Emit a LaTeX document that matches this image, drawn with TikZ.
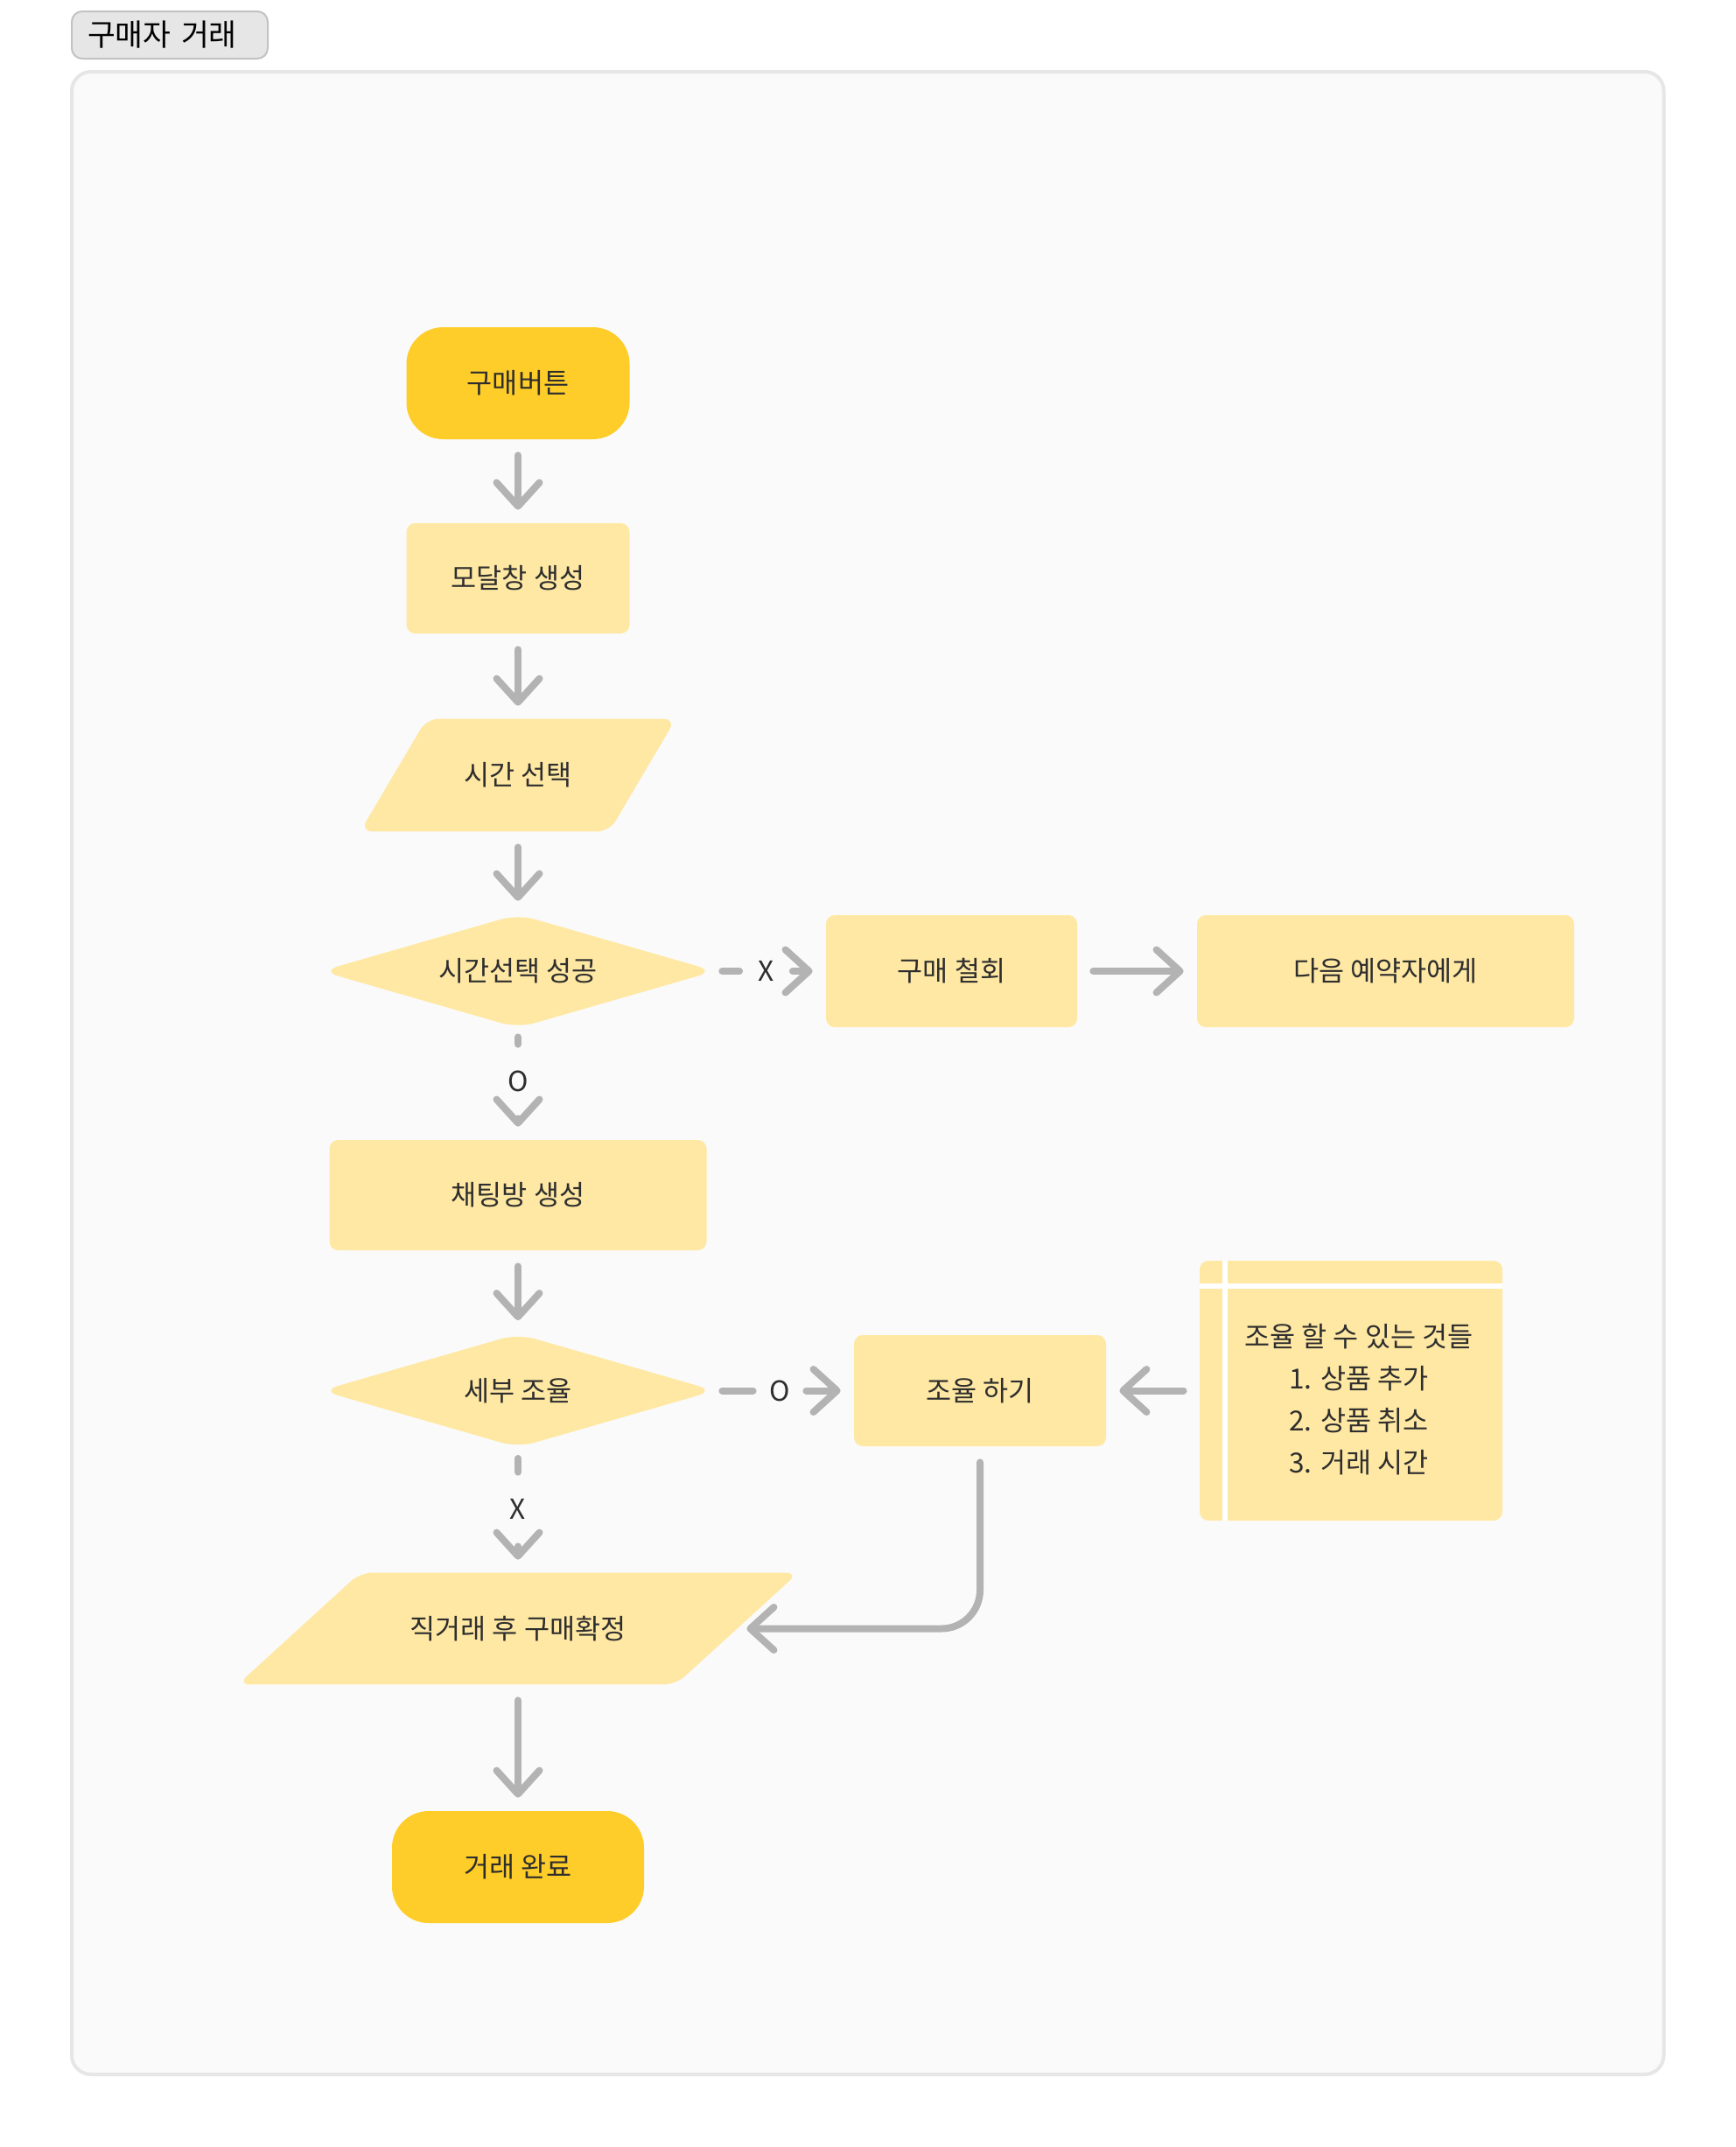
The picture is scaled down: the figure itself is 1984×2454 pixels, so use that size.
\documentclass[tikz,border=0pt]{standalone}
\usepackage{fontspec}
\setmainfont{Noto Sans CJK KR}
\usetikzlibrary{arrows.meta,shapes.geometric,calc}

\definecolor{termfill}{HTML}{FFCD29}
\definecolor{boxfill}{HTML}{FFE8A3}
\definecolor{linkgray}{HTML}{B3B3B3}
\definecolor{inkdark}{HTML}{2E2E2E}
\definecolor{panelfill}{HTML}{FAFAFA}
\definecolor{panelline}{HTML}{E6E6E6}
\definecolor{tagfill}{HTML}{E6E6E6}
\definecolor{tagline}{HTML}{C2C2C2}

\pgfdeclarelayer{panel}
\pgfdeclarelayer{shade}
\pgfsetlayers{panel,shade,main}

\begin{document}
\begin{tikzpicture}[x=0.5pt,y=-0.5pt,
  every node/.style={font=\fontsize{15.8}{24}\selectfont, text=inkdark},
  tagbox/.style={anchor=west, fill=tagfill, draw=tagline, line width=1pt,
    rounded corners=6pt, text width=94pt, inner xsep=9pt, inner ysep=0pt,
    minimum height=27pt, align=left, font=\fontsize{17.3}{20}\selectfont, text=black},
  terminal/.style={rectangle, fill=termfill, rounded corners=21pt, inner sep=0pt},
  process/.style={rectangle, fill=boxfill, rounded corners=5pt, inner sep=0pt},
  ioshape/.style={rectangle, inner sep=0pt},
  decision/.style={diamond, fill=boxfill, rounded corners=10pt, shape aspect=3.4,
    inner sep=2pt, minimum width=225pt, minimum height=65pt},
  notebox/.style={rectangle, fill=boxfill, rounded corners=5pt, inner sep=0pt,
    minimum width=173pt, minimum height=148.5pt},
  lbl/.style={inner sep=0pt, minimum width=30pt, minimum height=42pt},
  conn/.style={draw=linkgray, line width=4pt, line cap=round, line join=round},
  flow/.style={conn, shorten <=9pt, shorten >=7.5pt,
    -{Straight Barb[length=13.5pt,width=24.5pt,round]}},
]
\useasboundingbox (0,0) rectangle (1984,2454);

% panel behind the flow
\begin{pgfonlayer}{panel}
  \fill[white] (0,0) rectangle (1984,2454);
  \draw[panelline, fill=panelfill, line width=2pt, rounded corners=11pt]
    (82,82) rectangle (1901.5,2371);
\end{pgfonlayer}

\node[tagbox] (tag) at (81,40) {구매자 거래};

% main column
\node[terminal, minimum width=127.5pt, minimum height=64pt] (start) at (592,438) {구매버튼};
\node[process, minimum width=127.5pt, minimum height=63pt] (modal) at (592,661) {모달창 생성};
\node[ioshape, minimum width=180pt, minimum height=64pt] (pick) at (592,886) {시간 선택};
\node[decision] (ok) at (592,1110) {시간선택 성공};
\node[lbl] (noLbl) at (875.5,1110) {X};
\node[process, minimum width=143.5pt, minimum height=64pt] (cancel) at (1087.5,1110) {구매 철회};
\node[process, minimum width=215.5pt, minimum height=64pt] (next) at (1583.5,1110) {다음 예약자에게};
\node[lbl] (yesLbl) at (592,1236) {O};
\node[process, minimum width=215.5pt, minimum height=63pt] (chat) at (592,1366) {채팅방 생성};
\node[decision] (tune) at (592,1589.5) {세부 조율};
\node[lbl] (tuneYes) at (891,1589.5) {O};
\node[process, minimum width=144pt, minimum height=63.5pt] (adj) at (1120,1589.5) {조율 하기};
\node[notebox] (note) at (1544,1589.5) {};
\draw[white, line width=3pt] ([xshift=14.5pt]note.north west) -- ([xshift=14.5pt]note.south west);
\draw[white, line width=3pt] ([yshift=-14.5pt]note.north west) -- ([yshift=-14.5pt]note.north east);
\node[align=center] (noteText) at (1553,1600)
  {조율 할 수 있는 것들\\1. 상품 추가\\2. 상품 취소\\3. 거래 시간};
\node[lbl] (tuneNo) at (592,1725) {X};
\node[ioshape, minimum width=320pt, minimum height=63.5pt] (deal) at (592,1861.5) {직거래 후 구매확정};
\node[terminal, minimum width=144pt, minimum height=64pt] (done) at (592,2134) {거래 완료};

% slanted input/output shapes
\begin{pgfonlayer}{shade}
  \fill[boxfill, rounded corners=7pt] (pick.south west) -- ([xshift=-38pt]pick.south east)
    -- (pick.north east) -- ([xshift=38pt]pick.north west) -- cycle;
  \fill[boxfill, rounded corners=7pt] (deal.south west) -- ([xshift=-70pt]deal.south east)
    -- (deal.north east) -- ([xshift=70pt]deal.north west) -- cycle;
\end{pgfonlayer}
\coordinate (dealEdge) at ([xshift=-35pt]deal.east);

% connectors
\draw[flow] (start) -- (modal);
\draw[flow] (modal) -- (pick);
\draw[flow] (pick) -- (ok);
\draw[conn, shorten <=4pt] (ok.east) -- (noLbl.west);
\draw[flow, shorten <=0pt] (noLbl.east) -- (cancel.west);
\draw[flow] (cancel) -- (next);
\draw[conn, shorten <=5pt] (ok.south) -- (yesLbl.north);
\draw[flow, shorten <=0pt] (yesLbl.south) -- (chat.north);
\draw[flow] (chat) -- (tune);
\draw[conn, shorten <=4pt] (tune.east) -- (tuneYes.west);
\draw[flow, shorten <=0pt] (tuneYes.east) -- (adj.west);
\draw[flow] (note.west) -- (adj.east);
\draw[conn, shorten <=6pt] (tune.south) -- (tuneNo.north);
\draw[flow, shorten <=0pt] (tuneNo.south) -- (deal.north);
\draw[flow, rounded corners=22pt, shorten >=5.5pt] (adj.south) |- (dealEdge);
\draw[flow] (deal) -- (done);
\end{tikzpicture}
\end{document}
